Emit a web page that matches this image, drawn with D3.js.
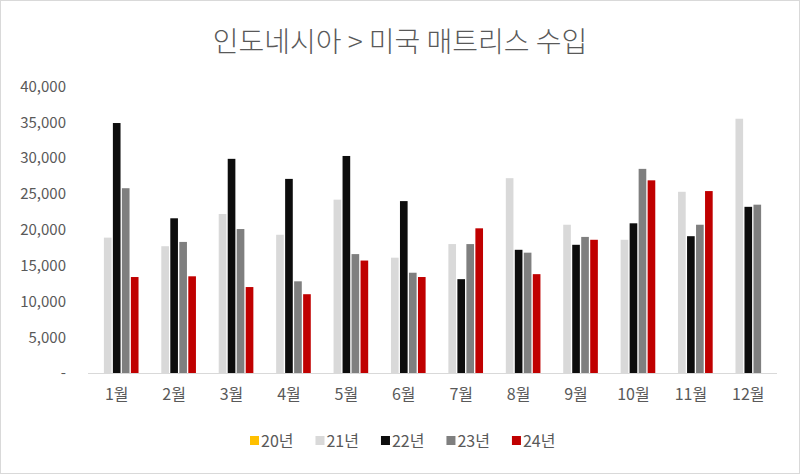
<!DOCTYPE html>
<html><head><meta charset="utf-8">
<script src="https://cdn.jsdelivr.net/npm/d3@7"></script>
<style>body{margin:0;background:#fff}svg{display:block}text{font-family:"Noto Sans CJK KR","Noto Sans",sans-serif}</style>
</head><body>
<script>
const title = "인도네시아 > 미국 매트리스 수입";
const months = ["1월","2월","3월","4월","5월","6월","7월","8월","9월","10월","11월","12월"];
const seriesNames = ["20년","21년","22년","23년","24년"];
const seriesColors = ["#FFC000","#D9D9D9","#0D0D0D","#7F7F7F","#C00000"];
const v20 = [null,null,null,null,null,null,null,null,null,null,null,null];
const v21 = [18900,17700,22200,19300,24200,16100,18000,27200,20700,18600,25300,35500];
const v22 = [34900,21600,29900,27100,30300,24000,13100,17200,17900,20900,19100,23200];
const v23 = [25800,18300,20100,12800,16600,14000,18000,16800,19000,28500,20700,23500];
const v24 = [13400,13500,12000,11000,15700,13400,20200,13800,18600,26900,25400,null];
const yTicks = [0,5000,10000,15000,20000,25000,30000,35000,40000];
const seriesValues = [v20,v21,v22,v23,v24];

const W = 800, H = 474;
const svg = d3.select("body").append("svg").attr("width", W).attr("height", H);
svg.append("rect").attr("x",0.5).attr("y",0.5).attr("width",W-1).attr("height",H-1)
  .attr("fill","#fff").attr("stroke","#d9d9d9");

svg.append("text").attr("x", 400).attr("y", 52).attr("text-anchor","middle")
  .attr("font-size", 28).attr("font-weight", 300).attr("fill","#595959").text(title);

const y = d3.scaleLinear().domain([0,40000]).range([373, 86.5]);
const x0 = d3.scaleBand().domain(months).range([88, 777]).paddingInner(0.24).paddingOuter(0.12);
const x1 = d3.scaleBand().domain(seriesNames).range([0, x0.bandwidth()]).paddingInner(0.15);

const yAxis = d3.axisLeft(y).tickValues(yTicks).tickSize(0).tickPadding(0)
  .tickFormat(d => d === 0 ? "-" : d3.format(",")(d));
const gy = svg.append("g").attr("transform","translate(66,0)").call(yAxis);
gy.select(".domain").remove();
gy.selectAll("text").attr("font-size", 15).attr("fill","#595959");

const groups = svg.append("g").selectAll("g").data(months).join("g")
  .attr("transform", d => `translate(${x0(d)},0)`);
groups.selectAll("rect").data((m,i) => seriesNames.map((s,j) => ({s, v: seriesValues[j][i], c: seriesColors[j]})).filter(d => d.v != null))
  .join("rect")
  .attr("x", d => x1(d.s)).attr("width", x1.bandwidth())
  .attr("y", d => y(d.v)).attr("height", d => y(0) - y(d.v))
  .attr("fill", d => d.c);

svg.append("line").attr("x1",88).attr("x2",777).attr("y1",373.5).attr("y2",373.5)
  .attr("stroke","#d9d9d9").attr("stroke-width",1);

const xAxis = d3.axisBottom(x0).tickSize(0).tickPadding(0);
const gx = svg.append("g").attr("transform","translate(0,389)").call(xAxis);
gx.select(".domain").remove();
gx.selectAll("text").attr("font-size", 16).attr("fill","#595959").attr("dy","0.71em").attr("y", 0);

// legend
const legend = svg.append("g");
let lx = 250;
seriesNames.forEach((s,i) => {
  legend.append("rect").attr("x", lx).attr("y", 436).attr("width", 9).attr("height", 9).attr("fill", seriesColors[i]);
  const t = legend.append("text").attr("x", lx + 11).attr("y", 447).attr("font-size", 16)
    .attr("fill","#595959").text(s);
  lx += 11 + t.node().getComputedTextLength() + 22;
});
</script>
</body></html>
